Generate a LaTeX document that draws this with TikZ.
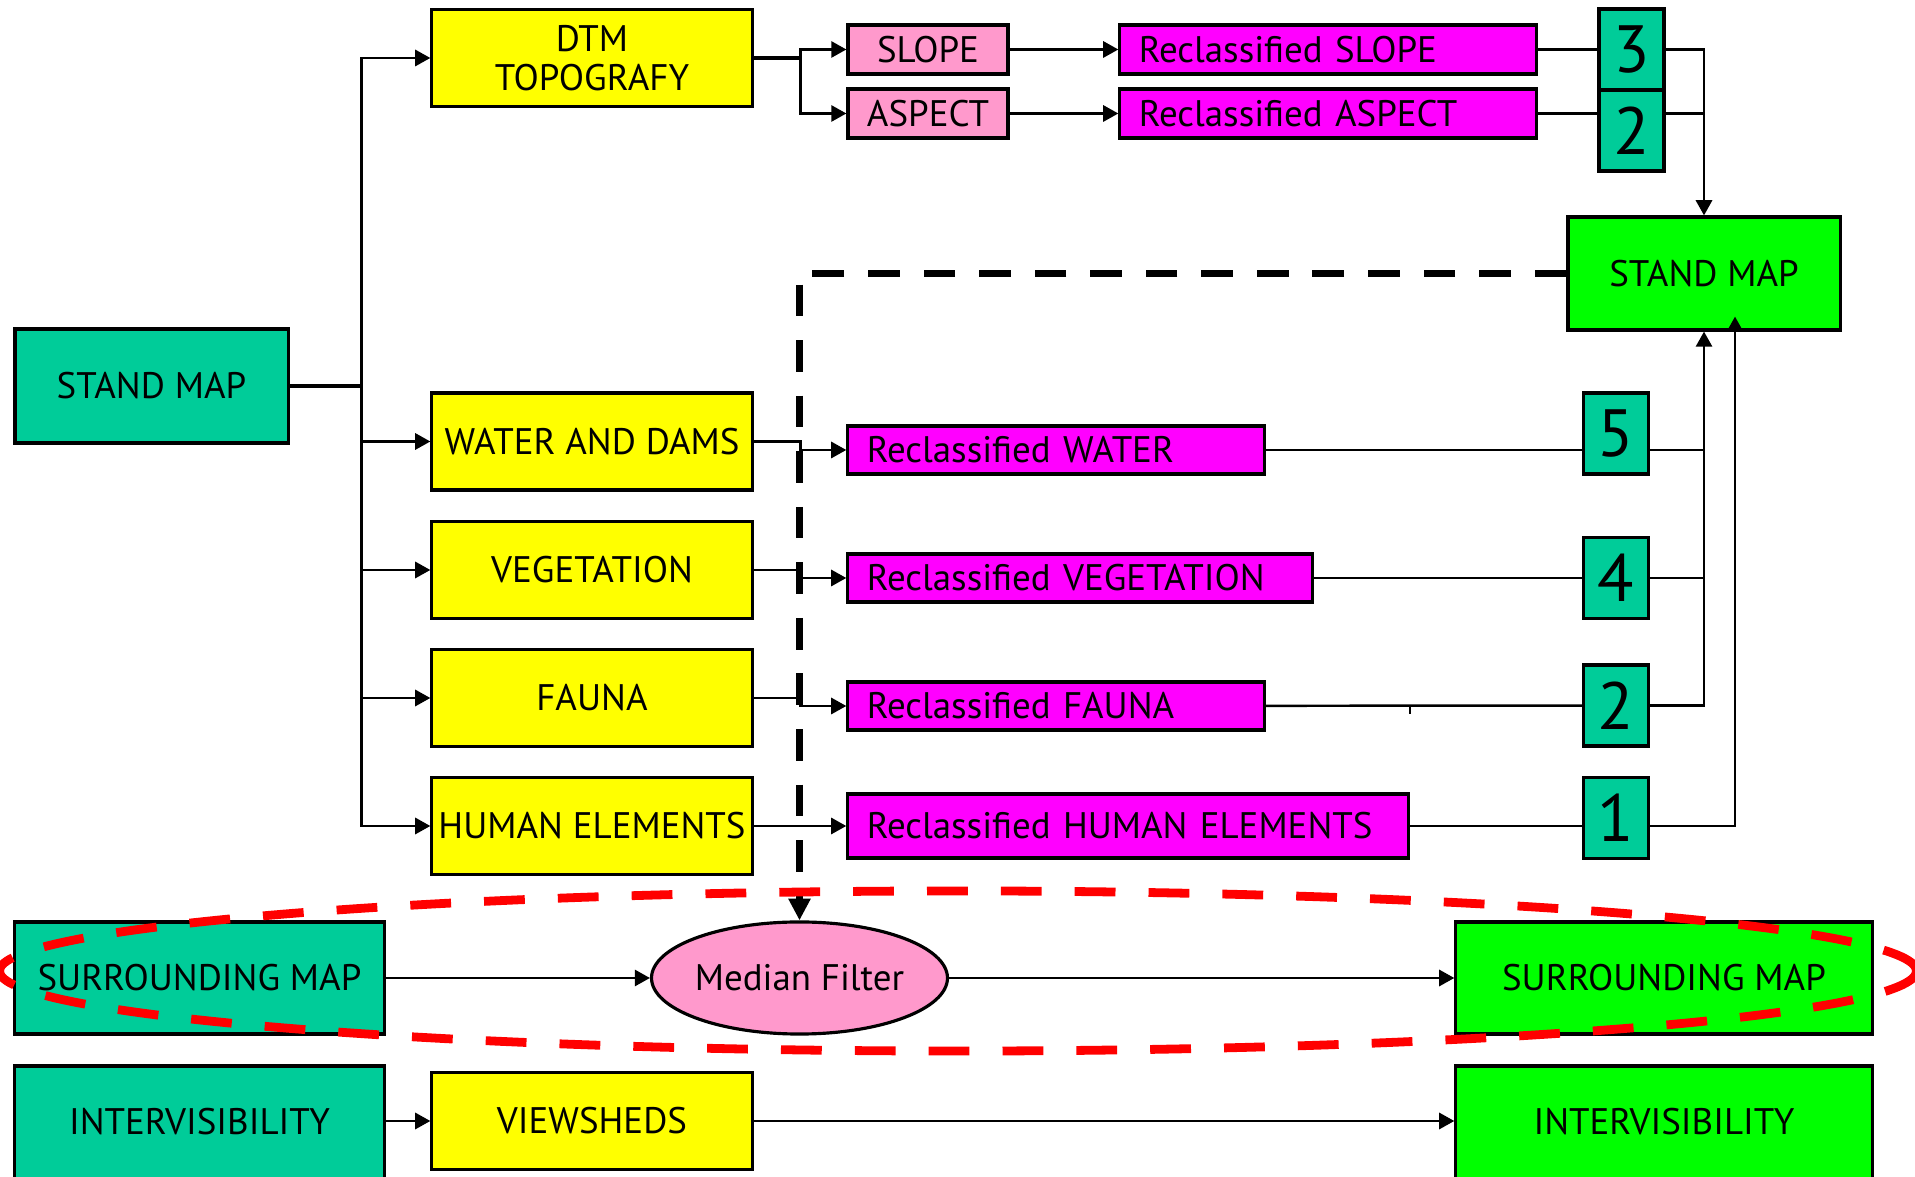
\documentclass[tikz,border=0pt]{standalone}
\usepackage{fontspec}
\setmainfont{PT Sans}
\usetikzlibrary{arrows.meta,shapes.geometric,calc}

\definecolor{boxteal}{RGB}{0,204,153}
\definecolor{boxyellow}{RGB}{255,255,0}
\definecolor{boxpink}{RGB}{255,153,204}
\definecolor{boxmagenta}{RGB}{255,0,255}
\definecolor{boxgreen}{RGB}{0,255,0}

\tikzset{
  box/.style={draw, line width=0.9pt, inner sep=0pt, align=center,
    font=\fontsize{10.5}{11}\selectfont},
  inbox/.style={box, fill=boxteal},
  outbox/.style={box, fill=boxgreen, minimum width=4.16cm, minimum height=1.12cm},
  layer/.style={box, fill=boxyellow, minimum width=3.2cm, minimum height=0.97cm},
  derived/.style={box, fill=boxpink, minimum width=1.6cm, minimum height=0.49cm},
  reclass/.style={box, fill=boxmagenta, align=left, inner xsep=0.19cm,
    minimum height=0.48cm},
  numbox/.style={box, fill=boxteal, minimum width=0.65cm, minimum height=0.81cm,
    font=\fontsize{19}{20}\selectfont},
  cutbox/.style={text height=0.68cm, text depth=0.52cm},
  bigdash/.style={line width=1.9pt, dash pattern=on 9pt off 6.8pt},
  ring/.style={draw=red, line width=2.5pt, dash pattern=on 11.6pt off 9.4pt}
}

\begin{document}
\begin{tikzpicture}[x=0.01cm, y=-0.01cm, line width=0.7pt,
    >={Triangle[length=4.3pt,width=4.6pt]}]
  \useasboundingbox (0,0) rectangle (1915,1177);

  % inputs
  \node[inbox, minimum width=2.73cm, minimum height=1.14cm] (smap) at (151.5,386) {STAND MAP};
  \node[inbox, minimum width=3.69cm, minimum height=1.12cm] (surr) at (199.5,978) {SURROUNDING MAP};
  \node[inbox, cutbox, minimum width=3.69cm] (intv) at (199.5,1126) {INTERVISIBILITY};

  % layers
  \node[layer] (dtm) at (592,58) {DTM\\TOPOGRAFY};
  \node[layer] (water) at (592,441.5) {WATER AND DAMS};
  \node[layer] (veg) at (592,570) {VEGETATION};
  \node[layer] (fauna) at (592,698) {FAUNA};
  \node[layer] (human) at (592,826) {HUMAN ELEMENTS};
  \node[layer] (views) at (592,1121) {VIEWSHEDS};

  \node[derived] (slope) at (928,49.5) {SLOPE};
  \node[derived] (aspect) at (928,113.5) {ASPECT};

  % reclassified layers
  \node[reclass, text width=3.78cm, minimum height=0.49cm] (rslope) at (1328,49.5) {Reclassified SLOPE};
  \node[reclass, text width=3.78cm, minimum height=0.49cm] (raspect) at (1328,113.5) {Reclassified ASPECT};
  \node[reclass, text width=3.78cm] (rwater) at (1056,450) {Reclassified WATER};
  \node[reclass, text width=4.26cm] (rveg) at (1080,578) {Reclassified VEGETATION};
  \node[reclass, text width=3.78cm] (rfauna) at (1056,706) {Reclassified FAUNA};
  \node[reclass, text width=5.22cm, minimum height=0.64cm] (rhuman) at (1128,826) {Reclassified HUMAN ELEMENTS};

  % weights
  \node[numbox] (n3) at (1631.5,49.5) {3};
  \node[numbox] (n2a) at (1631.5,130.5) {2};
  \node[numbox] (n5) at (1616,433.5) {5};
  \node[numbox] (n4) at (1616,578) {4};
  \node[numbox] (n2b) at (1616,705.5) {2};
  \node[numbox] (n1) at (1616,818) {1};

  % outputs
  \node[box, fill=boxgreen, minimum width=2.72cm, minimum height=1.13cm] (smapr) at (1704,273.5) {STAND MAP};
  \node[ellipse, draw, line width=0.9pt, fill=boxpink, inner sep=0pt, minimum width=2.87cm,
    minimum height=1.12cm, font=\fontsize{10.5}{11}\selectfont] (median) at (799.5,978) {Median Filter};
  \node[outbox] (surrr) at (1664,978) {SURROUNDING MAP};
  \node[outbox, cutbox, minimum height=0pt] (intvr) at (1664,1126) {INTERVISIBILITY};

  % stand map branches
  \draw[line width=1pt] (smap.east) -- ++(72,0) coordinate (trunk);
  \foreach \n in {dtm,water,veg,fauna,human}
    \draw[->] (trunk) |- (\n.west);

  \draw[line width=0.9pt] (dtm.east) -- ++(47,0) coordinate (fork);
  \draw[->] (fork) |- (slope.west);
  \draw[->] (fork) |- (aspect.west);
  \draw[->] (slope) -- (rslope);
  \draw[->] (aspect) -- (raspect);

  \foreach \a/\b in {water/rwater,veg/rveg,fauna/rfauna,human/rhuman}
    \draw[->] (\a.east) -- ++(47,0) |- (\b.west);

  % weights into the stand map
  \draw (rslope) -- (n3);
  \draw (raspect.east) -- (raspect.east -| n2a.west);
  \draw[->] (n3.east) -| (smapr.north);
  \draw (raspect.east -| n2a.east) -- (raspect.east -| smapr.north);

  \draw (rwater.east) -- (rwater.east -| n5.west);
  \draw (rveg) -- (n4);
  \draw (rfauna) -- (n2b);
  \draw (rfauna.east -| rhuman.east) -- ++(0,8);
  \draw (rhuman.east) -- (rhuman.east -| n1.west);
  \draw[->] (n2b.east) -| (smapr.south);
  \draw (rwater.east -| n5.east) -- (rwater.east -| smapr.south);
  \draw (n4.east) -- (n4.east -| smapr.south);
  \draw[->] (rhuman.east -| n1.east) -| ($(smapr.south)+(31,-15)$);

  \draw[bigdash, -{Triangle[length=6.2pt,width=6pt]}] (smapr.west) -| (median.north);

  % surrounding and intervisibility
  \draw[->] (surr) -- (median);
  \draw[->] (median) -- (surrr);
  \draw[->] (intv.east |- views.west) -- (views.west);
  \draw[->] (views.east) -- (views.east -| intvr.west);

  \draw[ring] (958,971) ellipse [x radius=9.58cm, y radius=0.8cm];
\end{tikzpicture}
\end{document}
